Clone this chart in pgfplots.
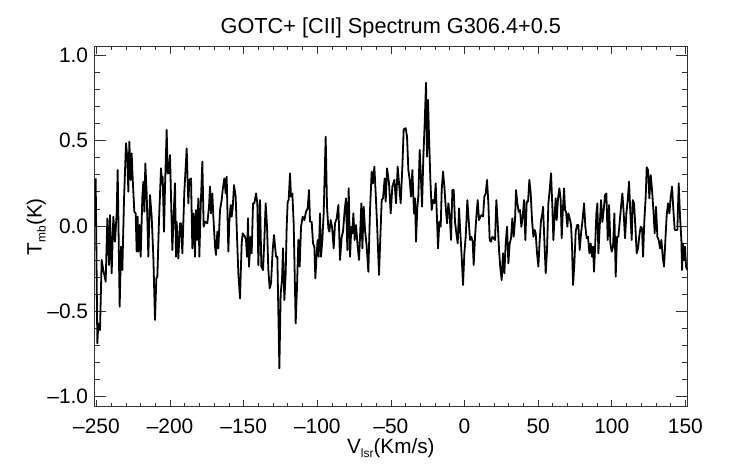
\documentclass[border=0pt]{standalone}
\usepackage{fontspec}
\setmainfont{Liberation Sans}
\usepackage{pgfplots}
\pgfplotsset{compat=1.18}
\begin{document}
\begin{tikzpicture}
\useasboundingbox (-94bp,-57.3bp) rectangle (648bp,406.7bp);
\begin{axis}[
  at={(0,0)}, anchor=south west,
  scale only axis, width=593.7bp, height=360bp,
  xmin=-251.7, xmax=151.6, ymin=-1.059, ymax=1.051,
  axis line style={line width=0.8bp, black!80},
  tick style={line width=0.8bp, black!80},
  tick align=inside,
  major tick length=7bp, minor tick length=3.5bp,
  major y tick style={/pgfplots/major tick length=12bp},
  minor y tick style={/pgfplots/minor tick length=6bp},
  xtick={-250,-200,-150,-100,-50,0,50,100,150},
  xticklabels={\textendash250,\textendash200,\textendash150,\textendash100,\textendash50,0,50,100,150},
  ytick={-1,-0.5,0,0.5,1},
  yticklabels={\textendash1.0,\textendash0.5,0.0,0.5,1.0},
  minor x tick num=4, minor y tick num=4,
  tick label style={font=\fontsize{21}{24}\selectfont},
  xticklabel style={inner sep=0pt, yshift=-11.6bp},
  yticklabel style={inner sep=0pt, xshift=-5.7bp},
  title={GOTC+ [CII] Spectrum G306.4+0.5},
  title style={font=\fontsize{21.8}{24}\selectfont, inner sep=0pt, anchor=base, yshift=7.4bp},
  xlabel={V\raisebox{-4bp}{\fontsize{12}{13}\selectfont lsr}(Km/s)},
  every axis x label/.style={at={(axis description cs:0.5,0)}, anchor=base, inner sep=0pt, yshift=-46.3bp, font=\fontsize{20.8}{24}\selectfont},
  ylabel={T\raisebox{-4bp}{\fontsize{12}{13}\selectfont mb}(K)},
  every axis y label/.style={at={(axis description cs:0,0.5)}, xshift=-52.3bp, rotate=90, anchor=base, inner sep=0pt, font=\fontsize{20.8}{24}\selectfont},
]
\addplot[black, line width=1.8bp, line join=round] coordinates {
(-250.57,0.279) (-249.43,-0.688) (-248.75,-0.571) (-247.62,-0.610) (-246.49,-0.199) (-245.36,-0.258)
(-243.77,-0.326) (-242.64,0.045) (-241.51,-0.229) (-240.83,0.064) (-239.70,-0.277) (-238.56,0.055)
(-237.43,-0.092) (-236.30,0.074) (-235.62,0.328) (-234.26,-0.473) (-233.36,-0.121) (-232.45,-0.258)
(-231.32,0.152) (-229.96,0.485) (-229.05,0.397) (-228.37,0.201) (-227.69,0.494) (-226.79,0.270)
(-226.11,0.426) (-225.43,0.279) (-224.30,0.084) (-223.39,0.074) (-222.71,-0.150) (-222.03,0.055)
(-221.58,-0.150) (-220.90,0.006) (-219.99,-0.180) (-218.86,0.172) (-218.18,0.260) (-217.50,0.084)
(-216.83,0.367) (-215.92,0.191) (-214.79,-0.180) (-213.66,0.182) (-212.52,0.055) (-211.39,-0.180)
(-210.26,-0.551) (-209.35,-0.307) (-208.67,-0.297) (-207.54,0.035) (-206.18,0.338) (-205.50,0.250)
(-205.05,0.289) (-204.14,-0.033) (-203.46,0.231) (-202.33,0.563) (-201.65,0.309) (-200.75,0.309)
(-200.07,0.416) (-199.39,0.172) (-198.48,-0.141) (-197.58,0.064) (-196.67,0.250) (-195.99,-0.180)
(-195.54,0.025) (-194.41,-0.190) (-193.27,0.016) (-192.59,0.016) (-191.69,-0.160) (-190.33,0.201)
(-188.74,0.455) (-187.61,0.133) (-186.93,0.270) (-185.80,0.279) (-184.90,-0.131) (-183.99,0.074)
(-183.08,-0.180) (-182.40,0.094) (-181.72,-0.082) (-180.82,0.162) (-180.14,-0.180) (-179.23,0.113)
(-178.10,0.377) (-177.20,-0.004) (-176.29,0.025) (-174.70,0.016) (-173.57,0.113) (-172.89,0.231)
(-172.22,0.074) (-171.31,0.191) (-170.63,0.055) (-169.50,-0.121) (-168.82,-0.170) (-167.91,-0.033)
(-167.23,-0.131) (-166.10,0.094) (-164.97,0.152) (-164.29,0.211) (-163.16,0.279) (-162.25,0.191)
(-161.57,0.289) (-160.44,-0.150) (-159.76,0.025) (-158.86,0.123) (-158.18,0.055) (-157.50,0.104)
(-156.59,0.240) (-155.46,0.172) (-154.55,-0.063) (-153.65,-0.277) (-152.52,-0.424) (-151.39,-0.102)
(-150.71,-0.043) (-149.13,-0.063)
(-148.44,-0.082) (-147.76,-0.180) (-147.08,0.045) (-146.40,-0.238) (-145.27,-0.063) (-144.59,-0.160)
(-143.68,0.133) (-142.78,0.133) (-141.64,0.191) (-140.74,0.133) (-140.06,-0.229) (-138.93,0.152)
(-138.02,-0.238) (-136.89,-0.258) (-135.98,-0.082) (-135.08,0.133) (-134.17,-0.004) (-133.27,-0.258)
(-132.36,-0.365) (-131.45,-0.336) (-130.32,-0.141) (-129.42,-0.053) (-128.06,-0.180) (-127.15,-0.180)
(-125.79,-0.834) (-124.89,-0.395) (-123.98,-0.317) (-123.30,-0.131) (-122.40,-0.434) (-121.49,-0.277)
(-120.81,-0.004) (-120.13,0.143) (-119.45,0.152) (-118.55,0.309) (-117.87,0.172) (-116.96,0.191)
(-116.06,0.016) (-114.70,-0.571) (-113.79,-0.356) (-112.88,-0.082) (-111.98,-0.238) (-111.07,-0.004)
(-109.94,0.055) (-108.81,0.035) (-107.68,0.084) (-106.54,0.104) (-105.64,0.211) (-104.96,0.025)
(-103.83,0.025) (-102.92,-0.102) (-102.02,-0.121) (-101.34,-0.307) (-100.43,-0.160) (-99.75,-0.082)
(-99.07,-0.180) (-98.17,0.074) (-97.49,-0.180) (-96.58,-0.082) (-95.68,0.074) (-94.32,0.524)
(-93.41,0.113) (-92.50,-0.014) (-91.82,-0.033) (-90.92,0.035) (-90.01,-0.004) (-88.88,-0.131)
(-87.98,0.016) (-86.84,0.045) (-85.71,0.123) (-84.58,-0.199) (-83.45,-0.063) (-82.54,-0.033)
(-81.41,0.094) (-80.50,0.162) (-79.60,-0.141) (-78.69,0.221) (-77.78,-0.180) (-76.88,-0.004)
(-76.20,-0.043) (-75.52,0.074) (-74.62,-0.082) (-73.71,0.006) (-72.58,-0.121) (-71.67,-0.199)
(-70.99,-0.063) (-70.09,0.133) (-69.41,-0.131) (-68.50,0.113) (-67.60,-0.023) (-66.46,-0.121)
(-65.33,-0.268) (-64.20,0.094) (-63.07,0.319) (-62.16,0.250) (-61.26,0.348) (-60.35,0.191)
(-59.44,0.016) (-58.09,-0.287) (-57.18,-0.063) (-56.27,0.152) (-55.37,0.162) (-54.24,0.279)
(-53.56,0.143) (-52.65,0.338)
(-51.29,0.250) (-50.16,0.074) (-49.03,0.231) (-47.67,0.270) (-46.54,0.133) (-45.41,0.348)
(-44.50,0.250) (-43.37,0.133) (-42.23,0.348) (-41.33,0.567) (-39.97,0.573) (-39.06,0.524)
(-38.16,0.328) (-37.25,0.270) (-36.35,0.172) (-35.44,0.328) (-34.31,0.074) (-33.63,0.162)
(-32.95,-0.092) (-32.04,0.113) (-31.37,0.172) (-30.46,0.446) (-29.55,0.270) (-28.87,0.113)
(-27.97,0.406) (-27.06,0.602) (-26.16,0.840) (-25.48,0.406) (-24.80,0.739) (-24.12,0.524)
(-23.21,0.270) (-22.31,0.094) (-21.40,0.152) (-20.50,0.133) (-19.59,0.250) (-18.68,0.035)
(-18.00,-0.131) (-17.10,0.025) (-16.19,-0.004) (-15.51,0.211) (-14.61,0.319) (-13.70,0.231)
(-12.80,0.113) (-11.89,0.016) (-10.99,0.133) (-10.08,0.064) (-9.17,-0.082) (-8.27,0.211)
(-7.36,0.211) (-6.46,0.025) (-5.55,-0.043) (-4.64,-0.102) (-3.74,0.104) (-2.83,-0.043)
(-1.93,-0.180) (-1.02,-0.346) (-0.12,-0.160) (0.79,-0.063) (1.92,0.152) (2.83,0.035)
(3.73,-0.082) (4.64,-0.063) (5.55,-0.092) (6.22,-0.229) (7.13,-0.063) (8.04,0.055)
(8.94,0.152) (9.85,0.035) (10.75,0.055) (11.66,0.064) (12.57,0.055) (13.47,0.172)
(14.38,0.191) (15.28,0.270) (16.19,0.133) (17.10,-0.082) (18.00,-0.092) (18.91,-0.063)
(19.81,-0.072) (20.72,-0.082) (21.62,0.152) (22.53,0.016) (23.44,-0.141) (24.34,-0.248)
(25.25,-0.317) (26.15,-0.160) (27.06,-0.277) (27.96,-0.102) (28.87,-0.004) (29.78,-0.219)
(30.68,-0.102) (31.59,-0.072) (32.49,0.045) (33.40,-0.063) (34.30,0.035) (34.98,0.211)
(35.89,0.133) (36.80,0.084) (37.70,0.094) (38.61,-0.004) (39.51,0.055) (40.42,0.152)
(41.32,-0.082) (42.23,0.143) (43.14,0.143) (44.04,0.270) (44.95,0.191) (45.85,0.035)
(46.76,-0.063) (47.66,-0.023) (48.34,-0.043) (49.25,-0.160) (50.16,-0.238) (51.06,-0.082)
(51.97,0.035) (52.87,0.074)
(53.32,0.113) (54.23,-0.082) (55.14,-0.277) (56.04,-0.141) (56.95,0.133) (57.85,0.211)
(58.76,0.309) (59.66,0.113) (60.34,-0.082) (61.25,0.074) (61.93,0.162) (62.61,0.035)
(63.51,0.162) (64.42,0.221) (65.33,0.152) (66.01,-0.072) (66.68,0.074) (67.59,0.221)
(68.27,0.094) (68.95,0.084) (69.86,-0.004) (70.54,0.074) (71.44,0.045) (72.35,0.006)
(73.03,-0.121) (73.71,-0.346) (74.61,-0.219) (75.52,-0.033) (76.42,0.006) (77.33,0.006)
(78.23,-0.141) (79.14,-0.043) (80.05,0.025) (81.18,0.133) (82.08,-0.004) (82.99,-0.072)
(83.89,-0.063) (84.80,-0.160) (85.71,-0.102) (86.61,-0.180) (87.29,-0.121) (87.97,-0.268)
(88.88,-0.082) (89.56,0.074) (90.24,0.133) (90.92,-0.160) (91.82,-0.004) (92.73,0.152)
(93.63,0.025) (94.54,0.094) (95.44,0.182) (96.35,0.191) (97.26,-0.082) (98.16,0.123)
(99.07,-0.102) (99.97,-0.150) (100.88,-0.121) (101.79,0.074) (102.69,-0.297) (103.60,-0.063)
(104.50,-0.063) (105.41,0.025) (106.31,0.113) (107.22,0.191) (108.13,0.074) (109.03,-0.072)
(109.94,0.074) (110.84,0.152) (111.75,0.260) (112.65,0.074) (113.56,-0.082) (114.24,0.152)
(115.14,0.133) (116.05,-0.004) (116.96,-0.160) (117.86,-0.131) (118.77,-0.053) (119.67,-0.004)
(120.58,-0.014) (121.26,-0.180) (122.16,0.035) (123.07,0.172) (123.75,0.344) (124.65,0.328)
(125.56,0.162) (126.47,0.299) (127.37,0.211) (128.28,0.094) (129.18,-0.043) (130.09,0.113)
(130.99,-0.063) (131.90,-0.082) (132.81,-0.131) (133.71,-0.082) (134.62,-0.180) (135.52,-0.238)
(136.43,-0.082) (137.33,0.064) (138.24,0.133) (139.15,0.074) (140.05,0.172) (140.96,0.231)
(141.86,0.094) (142.77,-0.023) (143.68,-0.023) (144.58,-0.023) (145.49,0.250) (146.39,0.055)
(147.30,-0.082) (147.75,-0.258) (148.43,-0.102) (149.11,-0.199) (149.79,-0.121) (150.47,-0.238)
(151.38,-0.258)
};
\end{axis}
\end{tikzpicture}
\end{document}
